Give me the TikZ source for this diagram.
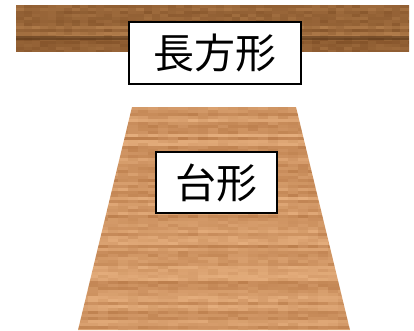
\documentclass[tikz,border=0pt]{standalone}
\usepackage{fontspec}
\newfontfamily\jpfont{Noto Sans CJK JP}
\usepackage{tikz}
\definecolor{boardlight}{HTML}{B5804E}
\definecolor{boarddark}{HTML}{7A4A22}
\definecolor{traplight}{HTML}{E4AD7C}
\definecolor{trapdark}{HTML}{B47543}
\tikzset{labelbox/.style={draw=black, line width=1.6pt, fill=white, inner sep=0pt, font=\jpfont\fontsize{41}{41}\selectfont}}
\begin{document}
\begin{tikzpicture}[x=1pt,y=-1pt]
  \useasboundingbox (0,0) rectangle (414,331);
  \pgfmathsetseed{11}
  % rectangle board
  \begin{scope}
    \clip (16,5) rectangle (409,52);
    \foreach \y in {5,8,...,50}{
      \pgfmathtruncatemacro\rowtone{random(15,75)}
      \foreach \x in {16,24,...,408}{
        \pgfmathtruncatemacro\tone{max(0,min(100,\rowtone+random(0,30)-15))}
        \fill[boarddark!\tone!boardlight] (\x,\y) rectangle ++(8.3,3.3);
      }
    }
    \fill[boarddark!70!black, opacity=0.55] (16,36) rectangle (409,40);
  \end{scope}
  % trapezoid board
  \begin{scope}
    \clip (132,107) -- (296,107) -- (350,330) -- (78,330) -- cycle;
    \foreach \y in {107,110,...,329}{
      \pgfmathtruncatemacro\rowtone{random(10,70)}
      \foreach \x in {78,88,...,348}{
        \pgfmathtruncatemacro\tone{max(0,min(100,\rowtone+random(0,30)-15))}
        \fill[trapdark!\tone!traplight] (\x,\y) rectangle ++(10.3,3.3);
      }
    }
  \end{scope}
  \node[labelbox, minimum width=172pt, minimum height=62pt] (rectlabel) at (215,53) {長方形};
  \node[labelbox, minimum width=121pt, minimum height=61pt] (traplabel) at (216.5,182.5) {台形};
\end{tikzpicture}
\end{document}
